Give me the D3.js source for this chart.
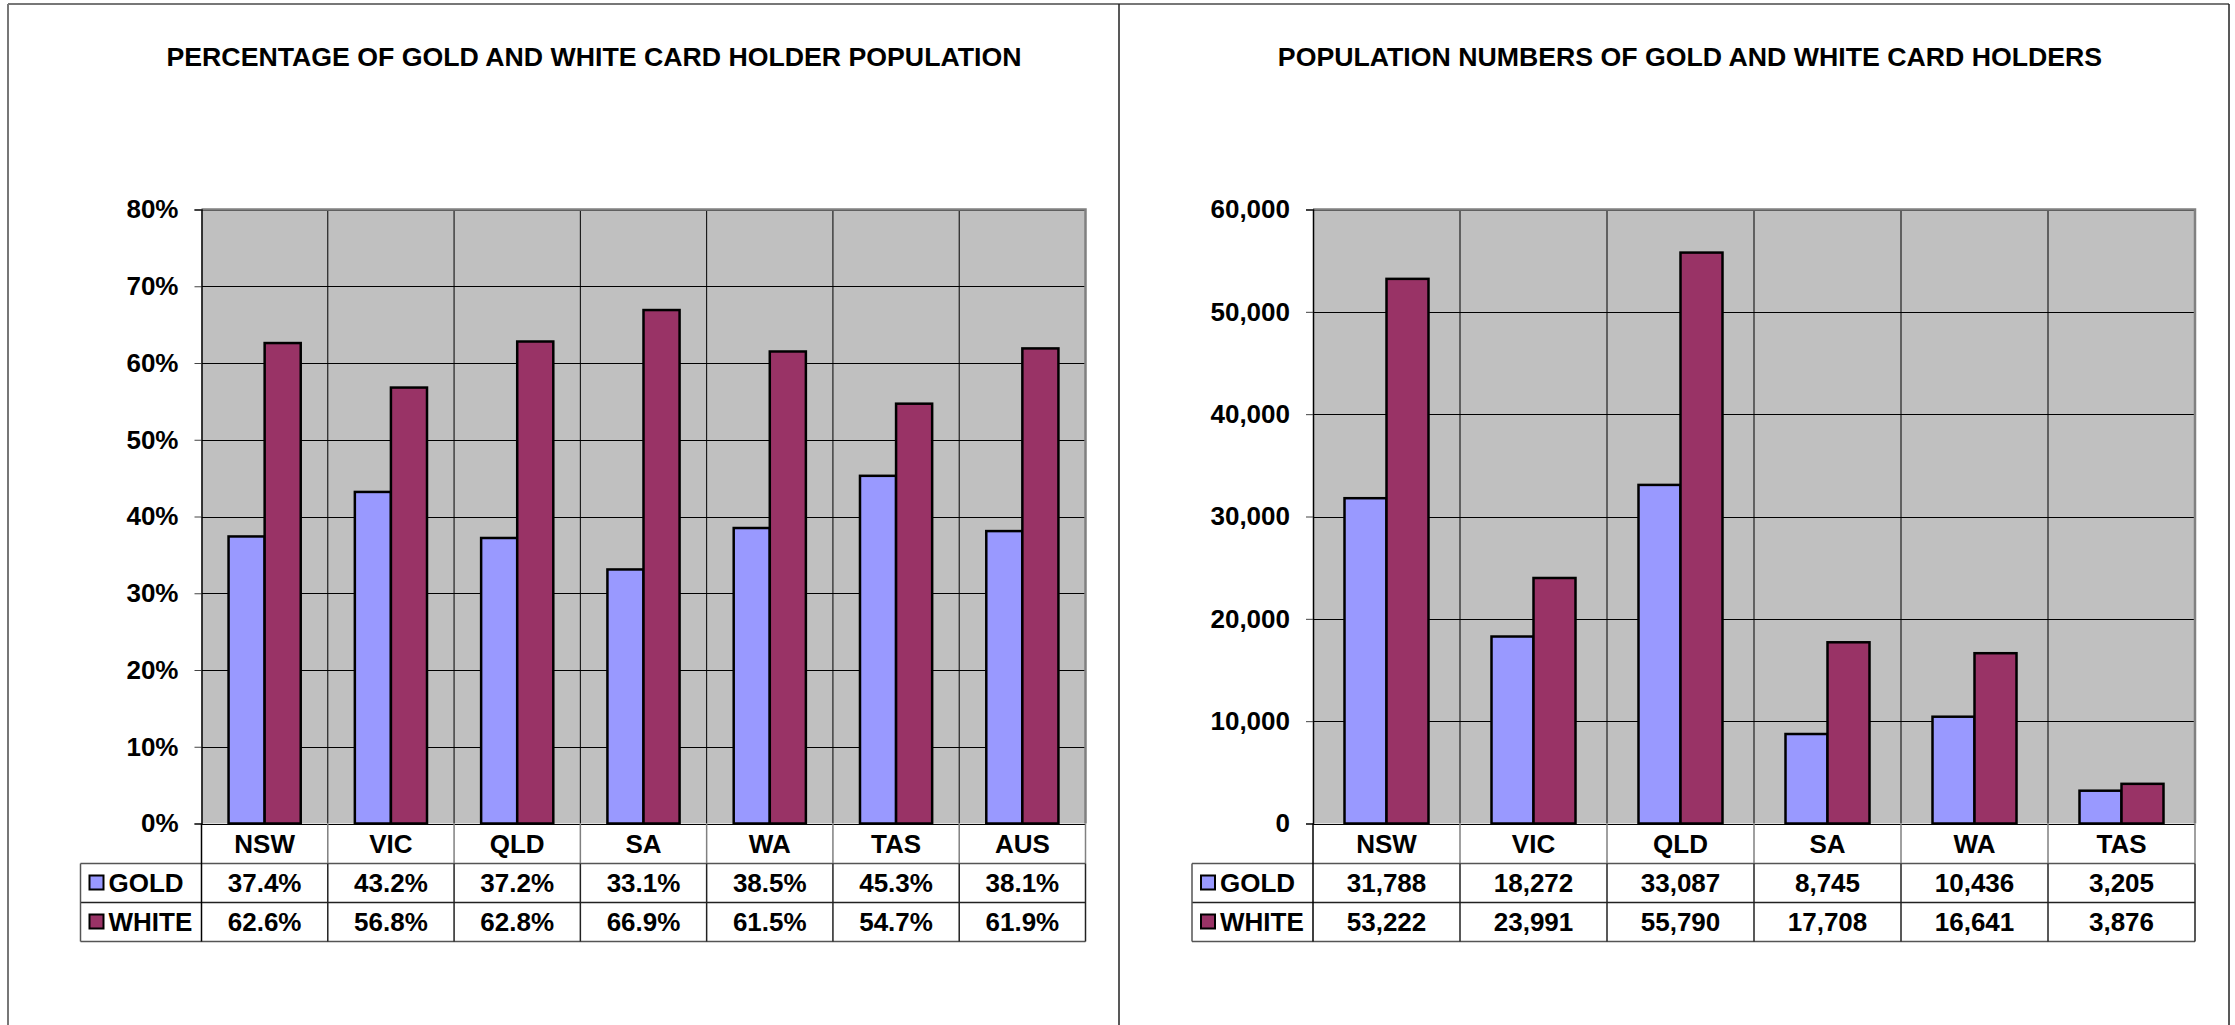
<!DOCTYPE html>
<html>
<head>
<meta charset="utf-8">
<script src="https://cdn.jsdelivr.net/npm/d3@7"></script>
<style>
  body { margin: 0; background: #fff; }
  text { font-family: Arial, "Liberation Sans", sans-serif; font-weight: bold; fill: #000; }
</style>
</head>
<body>
<svg id="chart" width="2235" height="1025"></svg>
<script>
// data
var pctCategories = ["NSW", "VIC", "QLD", "SA", "WA", "TAS", "AUS"];
var pctGold = [37.4, 43.2, 37.2, 33.1, 38.5, 45.3, 38.1];
var pctWhite = [62.6, 56.8, 62.8, 66.9, 61.5, 54.7, 61.9];
var pctTicks = [0, 10, 20, 30, 40, 50, 60, 70, 80];

var numCategories = ["NSW", "VIC", "QLD", "SA", "WA", "TAS"];
var numGold = [31788, 18272, 33087, 8745, 10436, 3205];
var numWhite = [53222, 23991, 55790, 17708, 16641, 3876];
var numTicks = [0, 10000, 20000, 30000, 40000, 50000, 60000];

var seriesNames = ["GOLD", "WHITE"];
var colors = { GOLD: "#9999FF", WHITE: "#993366" };

var svg = d3.select("#chart");

// page frame
svg.append("line").attr("x1", 8).attr("x2", 2229).attr("y1", 4).attr("y2", 4).attr("stroke", "#777").attr("stroke-width", 2);
svg.append("line").attr("x1", 8).attr("x2", 8).attr("y1", 4).attr("y2", 1025).attr("stroke", "#777").attr("stroke-width", 2);
svg.append("line").attr("x1", 1119).attr("x2", 1119).attr("y1", 4).attr("y2", 1025).attr("stroke", "#222").attr("stroke-width", 1.5);
svg.append("line").attr("x1", 2229).attr("x2", 2229).attr("y1", 4).attr("y2", 1025).attr("stroke", "#222").attr("stroke-width", 1.5);

function drawPanel(o) {
  var g = svg.append("g");
  var top = 209.5, bottom = 823.5, rowH = 39;

  var x = d3.scaleBand().domain(o.categories).range([o.left, o.right]).padding(0);
  var x1 = d3.scaleBand().domain(seriesNames).range([0, x.bandwidth()]).paddingInner(0).paddingOuter(0.75);
  var y = d3.scaleLinear().domain([0, d3.max(o.ticks)]).range([bottom, top]);

  g.append("text").attr("x", o.titleX).attr("y", 66).attr("text-anchor", "middle")
    .style("font-size", "26.7px").text(o.title);

  // plot background
  g.append("rect").attr("x", o.left).attr("y", top).attr("width", o.right - o.left).attr("height", bottom - top)
    .attr("fill", "#C0C0C0");

  // gridlines
  g.selectAll(".hg").data(o.ticks).enter().append("line")
    .attr("x1", o.left).attr("x2", o.right)
    .attr("y1", function(d) { return Math.round(y(d)) + 0.5; })
    .attr("y2", function(d) { return Math.round(y(d)) + 0.5; })
    .attr("stroke", "#000").attr("stroke-width", 1);
  g.selectAll(".vg").data(o.categories.slice(1)).enter().append("line")
    .attr("x1", function(d) { return x(d); }).attr("x2", function(d) { return x(d); })
    .attr("y1", top).attr("y2", bottom)
    .attr("stroke", "#000").attr("stroke-width", 1);

  // plot border (top and right, grey)
  g.append("path")
    .attr("d", "M" + o.left + "," + top + "H" + o.right + "V" + bottom)
    .attr("fill", "none").attr("stroke", "#808080").attr("stroke-width", 2.5);

  // bars
  var rows = o.categories.map(function(c, i) { return { cat: c, GOLD: o.gold[i], WHITE: o.white[i] }; });
  g.selectAll(".grp").data(rows).enter().append("g")
    .attr("transform", function(d) { return "translate(" + x(d.cat) + ",0)"; })
    .selectAll("rect")
    .data(function(d) { return seriesNames.map(function(s) { return { s: s, v: d[s] }; }); })
    .enter().append("rect")
      .attr("x", function(d) { return x1(d.s); })
      .attr("y", function(d) { return y(d.v); })
      .attr("width", x1.bandwidth())
      .attr("height", function(d) { return bottom - y(d.v); })
      .attr("fill", function(d) { return colors[d.s]; })
      .attr("stroke", "#000").attr("stroke-width", 2.5);

  // y axis
  var yAxis = d3.axisLeft(y).tickValues(o.ticks).tickSize(7).tickPadding(16).tickFormat(o.tickFormat);
  var ya = g.append("g").attr("transform", "translate(" + o.left + ",0)").call(yAxis);
  ya.select(".domain").attr("stroke", "#000").attr("stroke-width", 1.5);
  ya.selectAll(".tick line").attr("stroke", "#444");
  ya.selectAll(".tick text").style("font-size", "26px").style("font-family", "Arial, 'Liberation Sans', sans-serif")
    .style("font-weight", "bold").attr("fill", "#000");

  // data table
  var tLeft = o.left - 121;
  var r0 = bottom, r1 = bottom + 40, r2 = r1 + rowH, r3 = r2 + rowH;
  g.selectAll(".cl").data(o.categories).enter().append("text")
    .attr("x", function(d) { return x(d) + x.bandwidth() / 2; })
    .attr("y", (r0 + r1) / 2).attr("dy", "0.36em").attr("text-anchor", "middle")
    .style("font-size", "26px").text(function(d) { return d; });

  // table lines
  var tl = g.append("g").attr("fill", "none");
  [r1, r2, r3].forEach(function(yy, i) {
    tl.append("line").attr("x1", tLeft).attr("x2", o.right).attr("y1", yy).attr("y2", yy)
      .attr("stroke", i === 1 ? "#222" : "#555").attr("stroke-width", 1.5);
  });
  tl.append("line").attr("x1", tLeft).attr("x2", tLeft).attr("y1", r1).attr("y2", r3).attr("stroke", "#555").attr("stroke-width", 1.5);
  tl.append("line").attr("x1", o.left).attr("x2", o.left).attr("y1", r0).attr("y2", r3).attr("stroke", "#000").attr("stroke-width", 1.5);
  o.categories.forEach(function(c) {
    var xx = x(c) + x.bandwidth();
    tl.append("line").attr("x1", xx).attr("x2", xx).attr("y1", r0).attr("y2", r1).attr("stroke", "#808080").attr("stroke-width", 1.5);
    tl.append("line").attr("x1", xx).attr("x2", xx).attr("y1", r1).attr("y2", r3).attr("stroke", "#222").attr("stroke-width", 1.5);
  });

  seriesNames.forEach(function(s, i) {
    var vals = s === "GOLD" ? o.gold : o.white;
    var cy = (i === 0 ? (r1 + r2) : (r2 + r3)) / 2;
    g.append("rect").attr("x", tLeft + 9).attr("y", cy - 7.5).attr("width", 14).attr("height", 14)
      .attr("fill", colors[s]).attr("stroke", "#000").attr("stroke-width", 2);
    g.append("text").attr("x", tLeft + 28).attr("y", cy).attr("dy", "0.36em")
      .style("font-size", "26px").text(s);
    g.selectAll(".v" + s).data(vals).enter().append("text")
      .attr("x", function(d, j) { return x(o.categories[j]) + x.bandwidth() / 2; })
      .attr("y", cy).attr("dy", "0.36em").attr("text-anchor", "middle")
      .style("font-size", "26px").text(o.valueFormat);
  });
}

drawPanel({
  title: "PERCENTAGE OF GOLD AND WHITE CARD HOLDER POPULATION",
  titleX: 594,
  left: 201.5, right: 1085.5,
  categories: pctCategories, gold: pctGold, white: pctWhite, ticks: pctTicks,
  tickFormat: function(d) { return d + "%"; },
  valueFormat: function(d) { return d3.format(".1f")(d) + "%"; }
});

drawPanel({
  title: "POPULATION NUMBERS OF GOLD AND WHITE CARD HOLDERS",
  titleX: 1690,
  left: 1313, right: 2195,
  categories: numCategories, gold: numGold, white: numWhite, ticks: numTicks,
  tickFormat: d3.format(","),
  valueFormat: d3.format(",")
});
</script>
</body>
</html>
